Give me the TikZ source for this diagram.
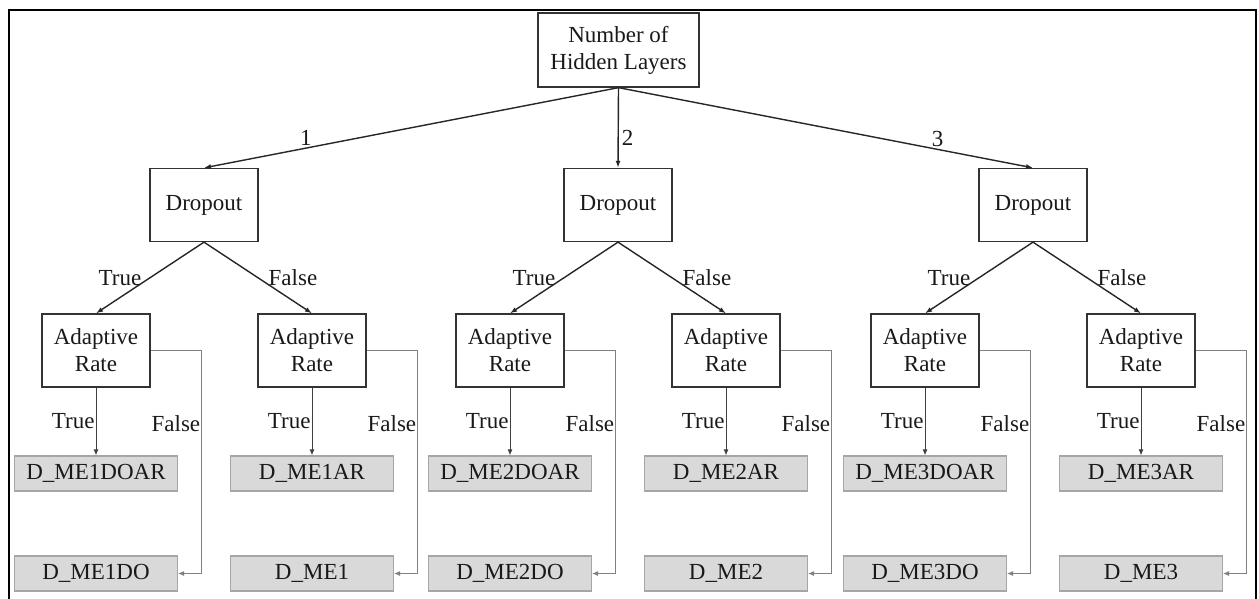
\documentclass[tikz,border=0pt]{standalone}
\usepackage{fontspec}
\setmainfont{Liberation Serif}
\newfontfamily\diagfont{Liberation Serif}
\usetikzlibrary{arrows.meta,calc}
\begin{document}
\begin{tikzpicture}[x=1pt,y=-1pt,
  every node/.style={font=\diagfont\fontsize{23}{27}\selectfont, text=black!90},
  decision/.style={draw=black!80, line width=1.3pt, fill=white,
    minimum width=108pt, minimum height=73pt, inner sep=0pt, align=center},
  rootbox/.style={decision, minimum width=161pt, minimum height=74pt},
  leafbox/.style={draw=black!35, line width=1.1pt, fill=black!15,
    minimum width=163pt, minimum height=35pt, inner sep=0pt},
  branch/.style={draw=black!85, line width=1.4pt, -{Latex[length=7pt,width=5pt]}},
  trueline/.style={draw=black!75, line width=1pt, -{Latex[length=6pt,width=5pt]}},
  falseline/.style={draw=black!50, line width=0.9pt, -{Latex[length=6pt,width=5pt]}},
  lab/.style={inner sep=1pt}
]
\useasboundingbox (0,0) rectangle (1259,599);
% outer frame
\draw[line width=2pt] (9,600) -- (9,10) -- (1256,10) -- (1256,600);

% root
\node[rootbox] (root) at (618.5,50) {Number of\\Hidden Layers};

% first level
\node[decision] (d1) at (204,205) {Dropout};
\node[decision] (d2) at (618,205) {Dropout};
\node[decision] (d3) at (1033,205) {Dropout};

\draw[branch] (root.south) -- node[lab, pos=0.754, above=1pt] {1} (d1.north);
\draw[branch] (root.south) -- node[lab, pos=0.63, right=2pt] {2} (d2.north);
\draw[branch] (root.south) -- node[lab, pos=0.77, above=1pt] {3} (d3.north);

% second level and leaves
\foreach \i/\p/\x/\ta/\fa in {
  1/1/96/D\_ME1DOAR/D\_ME1DO,
  2/1/312/D\_ME1AR/D\_ME1,
  3/2/510/D\_ME2DOAR/D\_ME2DO,
  4/2/726/D\_ME2AR/D\_ME2,
  5/3/925/D\_ME3DOAR/D\_ME3DO,
  6/3/1141/D\_ME3AR/D\_ME3}{
  \node[decision] (a\i) at (\x,350.5) {Adaptive\\Rate};
  \node[leafbox] (t\i) at (\x,473.5) {\ta};
  \node[leafbox] (f\i) at (\x,573.5) {\fa};
  \draw[trueline] (a\i.south) -- node[lab, pos=0.5, anchor=east] {True} (t\i.north);
  \draw[falseline] (a\i.east) -- ++(51,0)
    |- node[lab, pos=0.163, anchor=east] {False} (f\i.east);
}

% dropout outcomes
\foreach \p/\l/\r in {1/1/2, 2/3/4, 3/5/6}{
  \draw[branch] (d\p.south) -- node[inner sep=0pt, pos=0.5, anchor=east, xshift=-8pt] {True} (a\l.north);
  \draw[branch] (d\p.south) -- node[inner sep=0pt, pos=0.5, anchor=west, xshift=10pt] {False} (a\r.north);
}
\end{tikzpicture}
\end{document}
